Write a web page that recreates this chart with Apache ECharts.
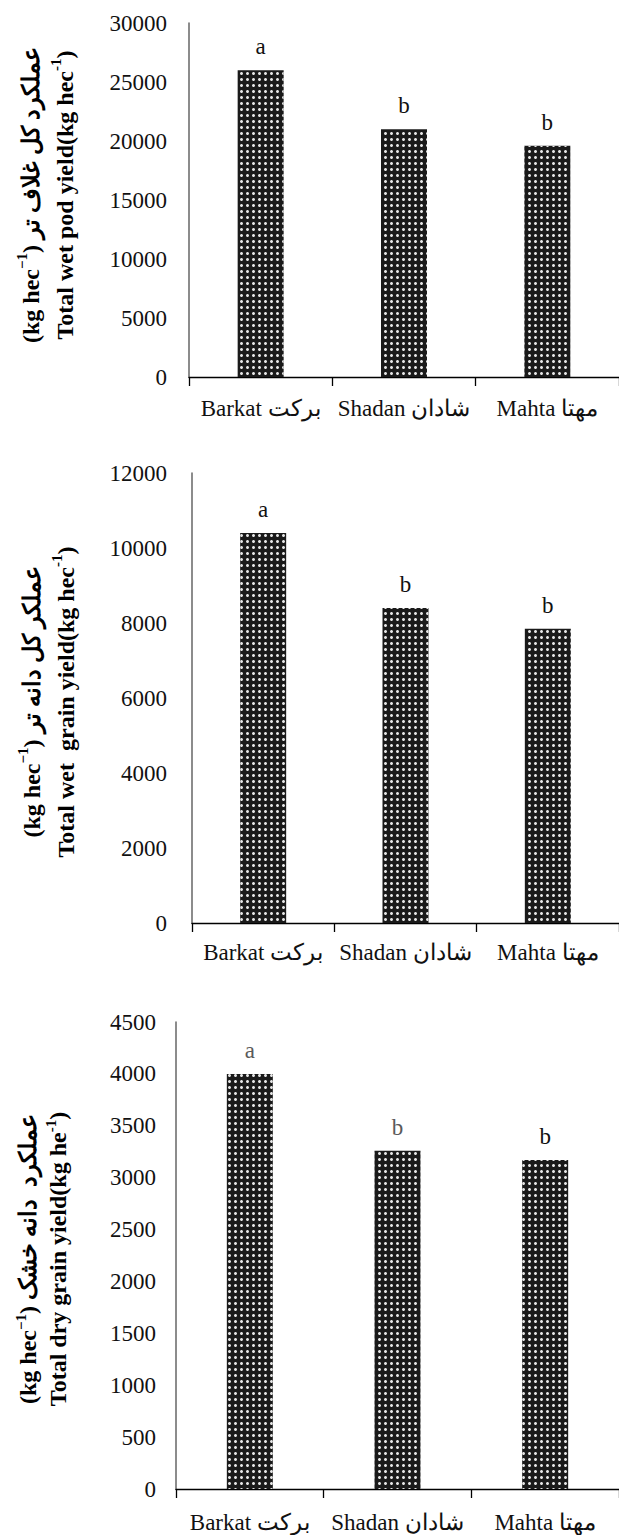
<!DOCTYPE html>
<html>
<head>
<meta charset="utf-8">
<script src="https://cdn.jsdelivr.net/npm/echarts@6/dist/echarts.min.js"></script>
<style>
  html, body { margin: 0; padding: 0; background: #fff; }
  #main { width: 619px; height: 1535px; }
</style>
</head>
<body>
<div id="main"></div>
<script>
// ---- data ----
const categories = ['Barkat برکت', 'Shadan شادان', 'Mahta مهتا'];

const podYield = [26000, 21000, 19600];
const podLetters = ['a', 'b', 'b'];
const podTicks = { min: 0, max: 30000, interval: 5000 };

const wetGrainYield = [10400, 8400, 7850];
const wetGrainLetters = ['a', 'b', 'b'];
const wetGrainTicks = { min: 0, max: 12000, interval: 2000 };

const dryGrainYield = [4000, 3260, 3170];
const dryGrainLetters = ['a', 'b', 'b'];
const dryGrainTicks = { min: 0, max: 4500, interval: 500 };

const titles = [
  { l1a: '(kg hec', l1s: '−1', l1b: ') عملکرد کل غلاف تر', l2a: 'Total wet pod yield(kg hec', l2s: '-1', l2b: ')' },
  { l1a: '(kg hec', l1s: '−1', l1b: ') عملکر کل دانه تر', l2a: 'Total wet  grain yield(kg hec', l2s: '-1', l2b: ')' },
  { l1a: '(kg hec', l1s: '−1', l1b: ') عملکرد  دانه خشک', l2a: 'Total dry grain yield(kg he', l2s: '-1', l2b: ')' }
];

// ---- layout / style ----
const FONT = '"Liberation Serif", "Times New Roman", serif';
const panels = [
  { left: 189, top: 23, width: 436, height: 354, ylm: 22, xlm: 20, tx: 48, ty: 195, lh: 34,
    values: podYield, letters: podLetters, ticks: podTicks, letterColors: ['#111', '#111', '#111'] },
  { left: 192, top: 473, width: 432, height: 450, ylm: 25, xlm: 18, tx: 49, ty: 702, lh: 34,
    values: wetGrainYield, letters: wetGrainLetters, ticks: wetGrainTicks, letterColors: ['#111', '#111', '#111'] },
  { left: 176, top: 1022, width: 450, height: 467, ylm: 20, xlm: 22, tx: 43, ty: 1259, lh: 30,
    values: dryGrainYield, letters: dryGrainLetters, ticks: dryGrainTicks, letterColors: ['#5a5a5a', '#5a5a5a', '#111'] }
];

const decal = {
  symbol: 'circle',
  symbolSize: 1,
  color: '#e6e6e6',
  dashArrayX: [2.8, 2.5],
  dashArrayY: [2.8, 2.5],
  rotation: 0
};

const grid = [], xAxis = [], yAxis = [], series = [], graphic = [];
panels.forEach((p, i) => {
  grid.push({ left: p.left, top: p.top, width: p.width, height: p.height, containLabel: false });
  xAxis.push({
    type: 'category', gridIndex: i, data: categories,
    axisLine: { show: true, lineStyle: { color: '#000', width: 1.3 } },
    axisTick: { show: true, alignWithLabel: false, length: 9, lineStyle: { color: '#000', width: 1.3 } },
    axisLabel: { fontFamily: FONT, fontSize: 23, color: '#111', margin: p.xlm, interval: 0 },
    splitLine: { show: false }
  });
  yAxis.push({
    type: 'value', gridIndex: i, min: p.ticks.min, max: p.ticks.max, interval: p.ticks.interval,
    axisLine: { show: true, lineStyle: { color: '#666', width: 1.5 } },
    axisTick: { show: false },
    axisLabel: { fontFamily: FONT, fontSize: 23, color: '#111', margin: p.ylm, formatter: (v) => String(v) },
    splitLine: { show: false }
  });
  series.push({
    type: 'bar', xAxisIndex: i, yAxisIndex: i, barWidth: 46,
    data: p.values.map((v, k) => ({ value: v, label: { color: p.letterColors[k] } })),
    itemStyle: { color: '#1a1a1a', decal: decal },
    label: {
      show: true, position: 'top', distance: 12,
      fontFamily: FONT, fontSize: 23,
      formatter: (prm) => p.letters[prm.dataIndex]
    },
    emphasis: { disabled: true },
    animation: false
  });
  const t = titles[i];
  graphic.push({
    type: 'text', x: p.tx, y: p.ty, rotation: Math.PI / 2,
    style: {
      text: '{n|' + t.l1a + '}{s|' + t.l1s + '}{n|' + t.l1b + '}\n{n|' + t.l2a + '}{s|' + t.l2s + '}{n|' + t.l2b + '}',
      rich: {
        n: { fontFamily: FONT, fontSize: 24, fontWeight: 'bold', lineHeight: p.lh, fill: '#000' },
        s: { fontFamily: FONT, fontSize: 15, fontWeight: 'bold', lineHeight: p.lh - 12, verticalAlign: 'top', fill: '#000' }
      },
      align: 'center', verticalAlign: 'middle', fill: '#000'
    }
  });
});

const chart = echarts.init(document.getElementById('main'), null, { renderer: 'svg' });
chart.setOption({
  animation: false,
  backgroundColor: '#fff',
  grid, xAxis, yAxis, series, graphic
});
</script>
</body>
</html>
